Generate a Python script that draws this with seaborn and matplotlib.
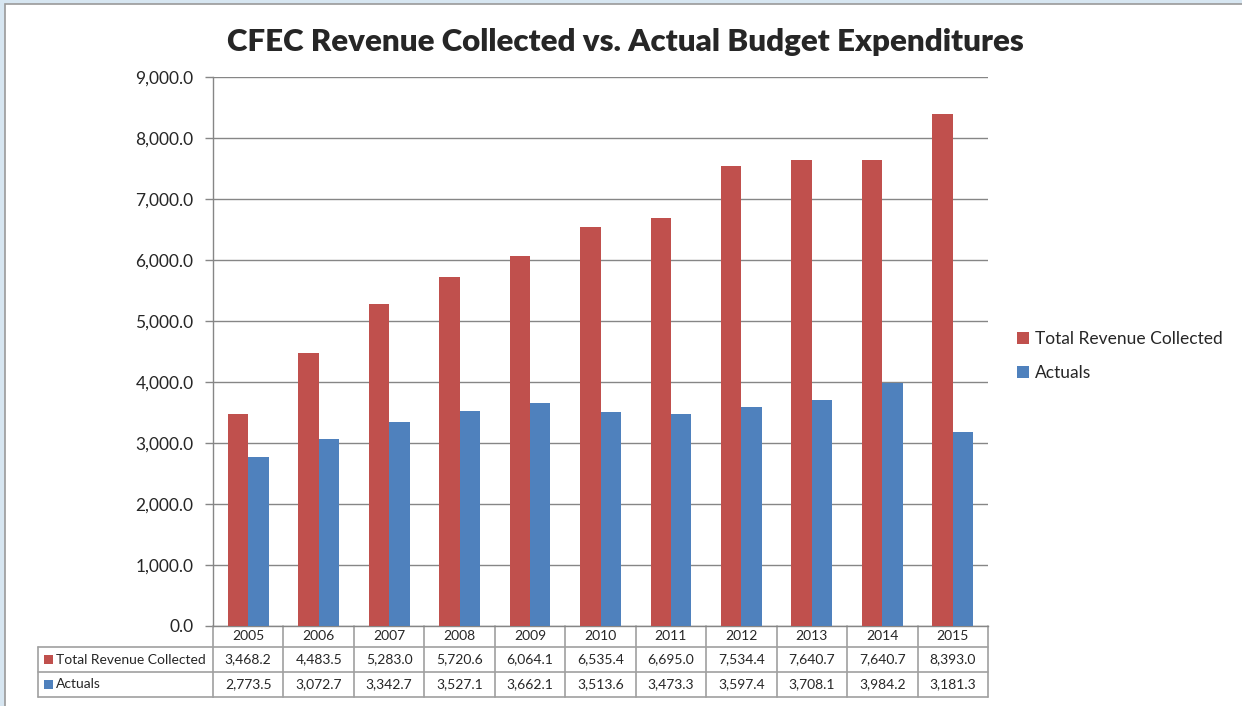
import numpy as np
import pandas as pd
import matplotlib
matplotlib.use("Agg")
import matplotlib.pyplot as plt
import seaborn as sns
from matplotlib.transforms import blended_transform_factory
from matplotlib.patches import Rectangle
from matplotlib.lines import Line2D
from matplotlib.ticker import FuncFormatter

# ---- data ----
years = ["2005", "2006", "2007", "2008", "2009", "2010", "2011", "2012", "2013", "2014", "2015"]
series_names = ["Total Revenue Collected", "Actuals"]
revenue = [3468.2, 4483.5, 5283.0, 5720.6, 6064.1, 6535.4, 6695.0, 7534.4, 7640.7, 7640.7, 8393.0]
actuals = [2773.5, 3072.7, 3342.7, 3527.1, 3662.1, 3513.6, 3473.3, 3597.4, 3708.1, 3984.2, 3181.3]
title = "CFEC Revenue Collected vs. Actual Budget Expenditures"

colors = ["#C0504D", "#4F81BD"]
grid_col = "#868686"
tbl_col = "#a0a0a0"

df = pd.DataFrame({
    "year": years * 2,
    "value": revenue + actuals,
    "series": [series_names[0]] * len(years) + [series_names[1]] * len(years),
})

sns.set_style("white")
plt.rcParams["font.family"] = ["Lato", "DejaVu Sans"]

W, H = 1242, 706
fig = plt.figure(figsize=(W / 100, H / 100), dpi=100)
fig.patch.set_facecolor("#d7e6f1")

# background white panel
bg = fig.add_axes([0, 0, 1, 1])
bg.set_xlim(0, W)
bg.set_ylim(H, 0)
bg.axis("off")
bg.add_patch(Rectangle((5, 4), W - 4, H, facecolor="white", edgecolor="#9a9a9a", lw=1.2))
bg.set_zorder(0)

left, right, top, bottom = 213, 988, 77, 626
ax = fig.add_axes([left / W, 1 - bottom / H, (right - left) / W, (bottom - top) / H])
ax.set_zorder(1)
ax.set_facecolor("white")

sns.barplot(data=df, x="year", y="value", hue="series", palette=colors,
            width=0.58, saturation=1, ax=ax, legend=True, zorder=3, linewidth=0)

ax.set_xlim(-0.5, len(years) - 0.5)
ax.set_ylim(0, 9000)
ax.set_yticks(np.arange(0, 9001, 1000))
ax.yaxis.set_major_formatter(FuncFormatter(lambda v, p: f"{v:,.1f}"))
ax.tick_params(axis="y", labelsize=12.5, length=6, width=1, color=grid_col, pad=8, left=True)
ax.tick_params(axis="x", length=0, labelbottom=False)
ax.set_xlabel("")
ax.set_ylabel("")
ax.grid(axis="y", color=grid_col, lw=1, zorder=0)
ax.set_axisbelow(True)
for s in ["top", "right"]:
    ax.spines[s].set_visible(False)
for s in ["left", "bottom"]:
    ax.spines[s].set_color(grid_col)
    ax.spines[s].set_linewidth(1)

# legend
handles, labels = ax.get_legend_handles_labels()
ax.legend(handles, labels, loc="center left", bbox_to_anchor=(1001 / W, 1 - 356 / H),
          bbox_transform=fig.transFigure, frameon=False, fontsize=12.5,
          handlelength=0.7, handleheight=0.7, handletextpad=0.35, labelspacing=1.0)

# title
fig.text(625 / W, 1 - 42 / H, title, ha="center", va="center", fontsize=22.5, fontweight="heavy")

# ---- data table below the axis ----
trans = blended_transform_factory(ax.transData, ax.transAxes)
ah = bottom - top
y_hdr = -21 / ah
y_r1 = -46 / ah
y_r2 = -71 / ah
x_lab = -(left - 38) / (right - left)
n = len(years)

def hline(x0, x1, y, tr):
    ax.add_line(Line2D([x0, x1], [y, y], transform=tr, color=tbl_col, lw=1.2, clip_on=False))

def vline(x, y0, y1, tr):
    ax.add_line(Line2D([x, x], [y0, y1], transform=tr, color=tbl_col, lw=1.2, clip_on=False))

hline(-0.5, n - 0.5, y_hdr, trans)
hline(-0.5, n - 0.5, y_r1, trans)
hline(-0.5, n - 0.5, y_r2, trans)
hline(x_lab, 0, y_hdr, ax.transAxes)
hline(x_lab, 0, y_r1, ax.transAxes)
hline(x_lab, 0, y_r2, ax.transAxes)
for i in range(n + 1):
    vline(i - 0.5, 0, y_r2, trans)
vline(x_lab, y_hdr, y_r2, ax.transAxes)

fs_tbl = 10
for i, yr in enumerate(years):
    ax.text(i, y_hdr / 2, yr, transform=trans, ha="center", va="center", fontsize=fs_tbl, clip_on=False)
    ax.text(i, (y_hdr + y_r1) / 2, f"{revenue[i]:,.1f}", transform=trans, ha="center", va="center",
            fontsize=fs_tbl, clip_on=False)
    ax.text(i, (y_r1 + y_r2) / 2, f"{actuals[i]:,.1f}", transform=trans, ha="center", va="center",
            fontsize=fs_tbl, clip_on=False)

sq_w = 9 / (right - left)
sq_h = 9 / ah
for k, (name, yc) in enumerate([(series_names[0], (y_hdr + y_r1) / 2), (series_names[1], (y_r1 + y_r2) / 2)]):
    x0 = x_lab + 6 / (right - left)
    ax.add_patch(Rectangle((x0, yc - sq_h / 2), sq_w, sq_h, transform=ax.transAxes,
                           facecolor=colors[k], edgecolor="none", clip_on=False))
    ax.text(x0 + sq_w + 3 / (right - left), yc, name, transform=ax.transAxes, ha="left", va="center",
            fontsize=fs_tbl, clip_on=False)

fig.savefig("out.png", dpi=100, facecolor=fig.get_facecolor())
